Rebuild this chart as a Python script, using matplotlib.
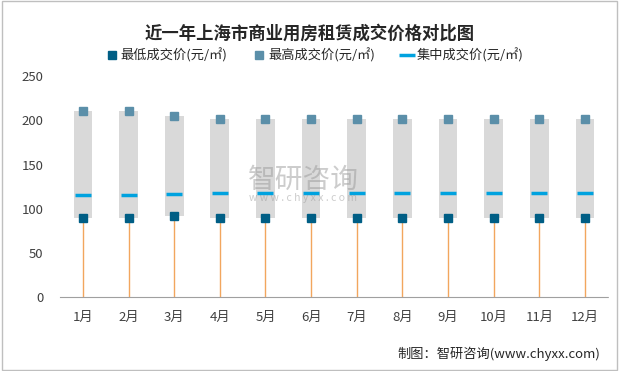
import numpy as np
import matplotlib.pyplot as plt
from matplotlib.patches import Rectangle

plt.rcParams['font.family'] = ['Noto Sans CJK SC', 'DejaVu Sans']

# data
months = ["1月", "2月", "3月", "4月", "5月", "6月", "7月", "8月", "9月", "10月", "11月", "12月"]
price_min = [90, 90, 92, 90, 90, 90, 90, 90, 90, 90, 90, 90]
price_max = [210, 210, 205, 201, 201, 201, 201, 201, 201, 201, 201, 201]
price_mid = [116, 116, 117, 118, 118, 118, 118, 118, 118, 118, 118, 118]

c_min = '#005E85'
c_max = '#5B8FA9'
c_mid = '#00A2DF'
c_drop = '#F2A65E'

fig = plt.figure(figsize=(6.19, 3.71), dpi=100)
fig.patches.append(Rectangle((0.003, 0.003), 0.994, 0.994, transform=fig.transFigure,
                             fill=False, edgecolor='#BFBFBF', linewidth=1))
ax = fig.add_axes([0.097, 0.199, 0.885, 0.596])

x = np.arange(len(months))
lo = np.array(price_min)
hi = np.array(price_max)

# gray range bars
ax.bar(x, hi - lo, bottom=lo, width=0.41, color='#D9D9D9', zorder=1)
# drop lines from min to axis
ax.vlines(x, 0, lo, color=c_drop, linewidth=1, zorder=2)

ax.plot(x, price_min, linestyle='none', marker='s', markersize=5.2, color=c_min, zorder=4,
        label='最低成交价(元/㎡)')
ax.plot(x, price_max, linestyle='none', marker='s', markersize=5.2, color=c_max, zorder=4,
        label='最高成交价(元/㎡)')
ax.plot(x, price_mid, linestyle='none', marker='_', markersize=12, markeredgewidth=2.5,
        color=c_mid, zorder=4, label='集中成交价(元/㎡)')

ax.set_xlim(-0.5, len(months) - 0.5)
ax.set_ylim(0, 250)
ax.set_yticks(range(0, 251, 50))
ax.set_xticks(x)
ax.set_xticklabels(months)
ax.tick_params(length=0, labelsize=9.5, colors='#404040')
ax.tick_params(axis='x', pad=10)
ax.tick_params(axis='y', pad=12)
for s in ['top', 'right', 'left']:
    ax.spines[s].set_visible(False)
ax.spines['bottom'].set_color('#A0A0A0')
ax.spines['bottom'].set_linestyle((0, (1, 1)))

fig.text(0.5, 0.91, '近一年上海市商业用房租赁成交价格对比图', ha='center', va='center',
         fontsize=12.5, fontweight='bold', color='#262626')
ax.legend(loc='lower center', bbox_to_anchor=(0.465, 1.0), ncol=3, frameon=False,
          fontsize=9.5, handlelength=0.8, handletextpad=0.3, columnspacing=2.0,
          borderaxespad=0.6, labelcolor='#262626')

# watermark
fig.text(0.49, 0.515, '智研咨询', ha='center', va='center', fontsize=20,
         color='#9A9A9A', alpha=0.5)
fig.text(0.49, 0.465, 'w w w . c h y x x . c o m', ha='center', va='center', fontsize=7.5,
         color='#9A9A9A', alpha=0.5)

fig.text(0.97, 0.045, '制图：智研咨询(www.chyxx.com)', ha='right', va='center',
         fontsize=9.5, color='#262626')

fig.savefig('out.png', dpi=100)
